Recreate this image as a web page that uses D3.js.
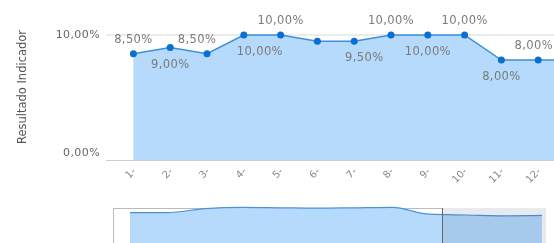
<!DOCTYPE html>
<html>
<head>
<meta charset="utf-8">
<script src="https://cdn.jsdelivr.net/npm/d3@7"></script>
<style>
	html, body { margin: 0; padding: 0; background: #fff; }
	svg { display: block; font-family: "DejaVu Sans", sans-serif; filter: blur(0.5px); }
</style>
</head>
<body>
<div id="chart"></div>
<script>
'use strict';

// data
var categories = ['1-', '2-', '3-', '4-', '5-', '6-', '7-', '8-', '9-', '10-', '11-', '12-', '13-'];
var values = [8.5, 9.0, 8.5, 10.0, 10.0, 9.5, 9.5, 10.0, 10.0, 10.0, 8.0, 8.0, 8.0];
var yTicks = [0, 10];
var navValues = [8.6, 8.6, 9.6, 9.9, 9.8, 9.7, 9.8, 9.9, 8.2, 8.0, 7.8, 7.9];

(function(){

	var width = 554, height = 243;

	var svg = d3.select('#chart')
		.append('svg')
		.attr('width', width)
		.attr('height', height);

	var fmt = function (d) {
		return d3.format('.2f')(d).replace('.', ',') + '%';
	};

	// scales
	var x = d3.scalePoint()
		.domain(categories)
		.range([133.4, 133.4 + 36.8 * (categories.length - 1)]);

	var y = d3.scaleLinear()
		.domain([0, 10])
		.range([160, 35]);

	var plotLeft = 106;
	var visible = function (c) { return x(c) < width; };

	// grid line
	svg.selectAll('.grid')
		.data(yTicks.filter(function (d) { return d > 0; }))
		.enter()
		.append('line')
		.attr('x1', plotLeft)
		.attr('x2', width)
		.attr('y1', function (d) { return y(d); })
		.attr('y2', function (d) { return y(d); })
		.attr('stroke', '#d8d8d8')
		.attr('stroke-width', 1);

	// area
	var area = d3.area()
		.x(function (d, i) { return x(categories[i]); })
		.y0(y(0))
		.y1(function (d) { return y(d); });

	svg.append('path')
		.datum(values)
		.attr('d', area)
		.attr('fill', '#b5dafb');

	var line = d3.line()
		.x(function (d, i) { return x(categories[i]); })
		.y(function (d) { return y(d); });

	svg.append('path')
		.datum(values)
		.attr('d', line)
		.attr('fill', 'none')
		.attr('stroke', '#3d8fd8')
		.attr('stroke-width', 1.5);

	// axis line
	svg.append('line')
		.attr('x1', plotLeft)
		.attr('x2', width)
		.attr('y1', y(0) + 0.5)
		.attr('y2', y(0) + 0.5)
		.attr('stroke', '#c8d0dc')
		.attr('stroke-width', 1);

	// markers
	svg.selectAll('circle.pt')
		.data(values)
		.enter()
		.append('circle')
		.attr('class', 'pt')
		.attr('cx', function (d, i) { return x(categories[i]); })
		.attr('cy', function (d) { return y(d); })
		.attr('r', 3.5)
		.attr('fill', '#0a6fd2');

	// data labels, alternating above / below, one hidden by overlap
	var hidden = [5];
	var k = 0;
	values.forEach(function (d, i) {
		if (hidden.indexOf(i) >= 0 || !visible(categories[i])) return;
		var above = (k % 2 === 0);
		k++;
		var cx = x(categories[i]);
		var anchor = 'middle';
		if (i === 2) cx -= 10;
		if (i === 3) cx += 16;
		if (i === 6) cx += 10;
		if (i === 11) { cx = width - 1; anchor = 'end'; }
		svg.append('text')
			.attr('x', cx)
			.attr('y', y(d) + (above ? -11 : 20))
			.attr('text-anchor', anchor)
			.attr('font-size', '11.5px')
			.attr('letter-spacing', '0.4px')
			.attr('fill', '#7a7a7a')
			.text(fmt(d));
	});

	// y axis labels
	svg.selectAll('.ylab')
		.data(yTicks)
		.enter()
		.append('text')
		.attr('x', 100)
		.attr('y', function (d) { return d === 0 ? y(d) - 4 : y(d) + 3; })
		.attr('text-anchor', 'end')
		.attr('font-size', '11px')
		.attr('letter-spacing', '0.4px')
		.attr('fill', '#666')
		.text(fmt);

	// y axis title
	svg.append('text')
		.attr('transform', 'translate(26,' + 87 + ') rotate(-90)')
		.attr('text-anchor', 'middle')
		.attr('font-size', '11.5px')
		.attr('fill', '#555')
		.text('Resultado Indicador');

	// x axis labels
	svg.selectAll('.xlab')
		.data(categories.filter(visible))
		.enter()
		.append('text')
		.attr('transform', function (d) {
			return 'translate(' + (x(d) + 3) + ',' + 172 + ') rotate(-45)';
		})
		.attr('text-anchor', 'end')
		.attr('font-size', '10px')
		.attr('fill', '#888')
		.text(function (d) { return d; });

	// navigator
	var nx = d3.scalePoint()
		.domain(d3.range(navValues.length))
		.range([130, 542]);
	var ny = d3.scaleLinear()
		.domain([0, 10])
		.range([247, 207]);

	svg.append('rect')
		.attr('x', 113.5)
		.attr('y', 208.5)
		.attr('width', 329)
		.attr('height', 40)
		.attr('fill', '#fff')
		.attr('stroke', '#bbb');

	var navArea = d3.area()
		.curve(d3.curveMonotoneX)
		.x(function (d, i) { return nx(i); })
		.y0(height)
		.y1(function (d) { return ny(d); });

	svg.append('path')
		.datum(navValues)
		.attr('d', navArea)
		.attr('fill', '#b5dafb');

	svg.append('path')
		.datum(navValues)
		.attr('d', navArea.lineY1())
		.attr('fill', 'none')
		.attr('stroke', '#4f92d4')
		.attr('stroke-width', 1.2);

	// selected range mask
	svg.append('rect')
		.attr('x', 442)
		.attr('y', 208)
		.attr('width', 104)
		.attr('height', 40)
		.attr('fill', 'rgba(60,90,130,0.12)');

	svg.append('line')
		.attr('x1', 442.5)
		.attr('x2', 442.5)
		.attr('y1', 208)
		.attr('y2', height)
		.attr('stroke', '#666');

}());
</script>
</body>
</html>
